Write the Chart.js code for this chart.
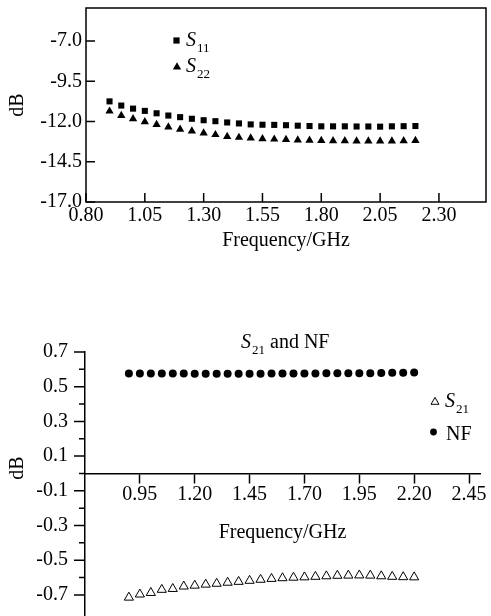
<!DOCTYPE html>
<html><head><meta charset="utf-8">
<script src="https://cdn.jsdelivr.net/npm/chart.js@4.4.1/dist/chart.umd.min.js"></script>
<style>
html,body{margin:0;padding:0;background:#fff;width:491px;height:616px;overflow:hidden;position:relative}
canvas{position:absolute;left:0}
#c1{top:0}
#c2{top:300px}
</style></head><body>
<canvas id="c1" width="491" height="262"></canvas>
<canvas id="c2" width="491" height="322"></canvas>
<script>
// ---------- data ----------
const freq = [0.90,0.95,1.00,1.05,1.10,1.15,1.20,1.25,1.30,1.35,1.40,1.45,1.50,1.55,1.60,1.65,1.70,1.75,1.80,1.85,1.90,1.95,2.00,2.05,2.10,2.15,2.20];
const s11 = [-10.75,-11.01,-11.20,-11.34,-11.49,-11.63,-11.73,-11.83,-11.92,-11.98,-12.06,-12.12,-12.18,-12.20,-12.21,-12.23,-12.26,-12.28,-12.30,-12.30,-12.30,-12.31,-12.31,-12.32,-12.30,-12.29,-12.28];
const s22 = [-11.36,-11.63,-11.83,-12.02,-12.19,-12.35,-12.49,-12.60,-12.72,-12.82,-12.94,-12.99,-13.03,-13.07,-13.10,-13.12,-13.15,-13.17,-13.18,-13.20,-13.20,-13.21,-13.21,-13.21,-13.21,-13.20,-13.19];
const nf  = [0.576,0.576,0.576,0.576,0.576,0.576,0.575,0.575,0.575,0.575,0.575,0.575,0.575,0.576,0.576,0.576,0.576,0.576,0.577,0.577,0.577,0.578,0.578,0.579,0.580,0.581,0.582];
const s21 = [-0.715,-0.697,-0.688,-0.670,-0.665,-0.651,-0.646,-0.640,-0.635,-0.629,-0.624,-0.618,-0.612,-0.607,-0.603,-0.600,-0.598,-0.595,-0.592,-0.589,-0.588,-0.587,-0.588,-0.592,-0.595,-0.597,-0.598];
const topXTicks = [0.80,1.05,1.30,1.55,1.80,2.05,2.30];
const topYTicks = [-17.0,-14.5,-12.0,-9.5,-7.0];
const botXTicks = [0.95,1.20,1.45,1.70,1.95,2.20,2.45];
const botYTicks = [0.7,0.6,0.5,0.4,0.3,0.2,0.1,0.0,-0.1,-0.2,-0.3,-0.4,-0.5,-0.6,-0.7];
const botYLabels = [0.7,0.5,0.3,0.1,-0.1,-0.3,-0.5,-0.7];

const FAM = '"Liberation Serif", "Times New Roman", serif';
Chart.defaults.font.family = FAM;
Chart.defaults.color = '#000';

function pts(ys){ return freq.map((f,i)=>({x:f,y:ys[i]})); }
function zeroPad(s){ s.paddingLeft=0; s.paddingRight=0; s.paddingTop=0; s.paddingBottom=0; }

function marker(ctx, style, x, y, r, filled){
  ctx.save();
  ctx.fillStyle='#000'; ctx.strokeStyle='#000'; ctx.lineWidth=1;
  ctx.beginPath();
  if(style==='rect'){ const s=r*Math.SQRT1_2; ctx.rect(x-s,y-s,2*s,2*s); }
  else if(style==='triangle'){
    ctx.moveTo(x, y-r); ctx.lineTo(x+r*Math.sin(2*Math.PI/3), y+r/2); ctx.lineTo(x-r*Math.sin(2*Math.PI/3), y+r/2); ctx.closePath();
  } else { ctx.arc(x,y,r,0,Math.PI*2); }
  if(filled) ctx.fill(); else ctx.stroke();
  ctx.restore();
}
function subText(ctx, x, y, main, sub, size, subSize, rest){
  ctx.save();
  ctx.fillStyle='#000'; ctx.textBaseline='alphabetic'; ctx.textAlign='left';
  ctx.font = 'italic '+size+'px '+FAM;
  ctx.fillText(main, x, y);
  let w = ctx.measureText(main).width + 1;
  ctx.font = subSize+'px '+FAM;
  ctx.fillText(sub, x+w, y+subSize*0.45);
  w += ctx.measureText(sub).width;
  if(rest){ ctx.font = size+'px '+FAM; ctx.fillText(rest, x+w, y); }
  ctx.restore();
}

// ---------- top chart ----------
const topPlugin = {
  id:'topDeco',
  afterDraw(chart){
    const {ctx, chartArea:a} = chart;
    const xs = chart.scales.x, ys = chart.scales.y;
    ctx.save();
    ctx.strokeStyle='#000'; ctx.lineWidth=1.5;
    ctx.strokeRect(a.left, a.top, a.right-a.left, a.bottom-a.top);
    ctx.beginPath();
    xs.ticks.forEach(t=>{ const p=xs.getPixelForValue(t.value); ctx.moveTo(p,a.bottom); ctx.lineTo(p,a.bottom-9); });
    ys.ticks.forEach(t=>{ const p=ys.getPixelForValue(t.value); ctx.moveTo(a.left,p); ctx.lineTo(a.left+9,p); });
    ctx.stroke();
    ctx.restore();
    const ds = chart.data.datasets;
    marker(ctx, ds[0].pointStyle, 176.5, 40.5, 4.4, true);
    subText(ctx, 186, 46, ds[0].label[0], ds[0].label.slice(1), 20, 13);
    marker(ctx, ds[1].pointStyle, 177, 67, 4.8, true);
    subText(ctx, 186, 72, ds[1].label[0], ds[1].label.slice(1), 20, 13);
  }
};

new Chart(document.getElementById('c1'), {
  type:'scatter',
  data:{ datasets:[
    {label:'S11', data:pts(s11), pointStyle:'rect', pointRadius:4.3, backgroundColor:'#000', borderColor:'#000', borderWidth:0, showLine:false},
    {label:'S22', data:pts(s22), pointStyle:'triangle', pointRadius:4.8, backgroundColor:'#000', borderColor:'#000', borderWidth:0, showLine:false}
  ]},
  options:{
    responsive:false, animation:false, events:[],
    layout:{padding:{top:8,right:5,left:0,bottom:0}},
    plugins:{legend:{display:false}, tooltip:{enabled:false}},
    scales:{
      x:{type:'linear', min:0.80, max:2.50,
        afterBuildTicks:s=>{ s.ticks = topXTicks.map(v=>({value:v})); },
        afterFit:s=>{ s.height=60; zeroPad(s); },
        ticks:{callback:v=>Number(v).toFixed(2), font:{size:20}, padding:2, maxRotation:0, autoSkip:false},
        grid:{display:true, drawOnChartArea:false, drawTicks:false},
        border:{display:false},
        title:{display:true, text:'Frequency/GHz', font:{size:20}, padding:{top:0,bottom:9}}
      },
      y:{type:'linear', min:-17, max:-4.95,
        afterBuildTicks:s=>{ s.ticks = topYTicks.map(v=>({value:v})); },
        afterFit:s=>{ s.width=86; zeroPad(s); },
        ticks:{callback:v=>Number(v).toFixed(1), font:{size:20}, padding:4, autoSkip:false},
        grid:{display:true, drawOnChartArea:false, drawTicks:false},
        border:{display:false},
        title:{display:true, text:'dB', font:{size:20}, padding:{top:6,bottom:0}}
      }
    }
  },
  plugins:[topPlugin]
});

// ---------- bottom chart ----------
const botPlugin = {
  id:'botDeco',
  afterDraw(chart){
    const {ctx, chartArea:a} = chart;
    const ys = chart.scales.y;
    ctx.save();
    ctx.strokeStyle='#000'; ctx.lineWidth=1.5;
    ctx.beginPath();
    ys.ticks.forEach(t=>{
      const p = ys.getPixelForValue(t.value);
      const major = botYLabels.some(l=>Math.abs(l-t.value)<1e-6);
      ctx.moveTo(a.left, p); ctx.lineTo(a.left-(major?11:6), p);
    });
    ctx.stroke();
    ctx.fillStyle='#000';
    ctx.font='20px '+FAM;
    ctx.translate(18, 168); ctx.rotate(-Math.PI/2);
    ctx.textAlign='center'; ctx.textBaseline='middle';
    ctx.fillText('dB', 0, 0);
    ctx.restore();
    subText(ctx, 241, 48, 'S', '21', 20, 13, ' and NF');
    const ds = chart.data.datasets;
    marker(ctx, ds[0].pointStyle, 435, 102, 4.6, false);
    subText(ctx, 445, 107, ds[0].label[0], ds[0].label.slice(1), 20, 13);
    marker(ctx, ds[1].pointStyle, 433.5, 132, 3.4, true);
    ctx.save(); ctx.fillStyle='#000'; ctx.font='20px '+FAM; ctx.textBaseline='alphabetic';
    ctx.fillText(ds[1].label, 446, 140); ctx.restore();
  }
};

new Chart(document.getElementById('c2'), {
  type:'scatter',
  data:{ datasets:[
    {label:'S21', data:pts(s21), pointStyle:'triangle', pointRadius:5.3, backgroundColor:'rgba(0,0,0,0)', borderColor:'#000', borderWidth:1, showLine:false},
    {label:'NF', data:pts(nf), pointStyle:'circle', pointRadius:4, backgroundColor:'#000', borderColor:'#000', borderWidth:0, showLine:false}
  ]},
  options:{
    responsive:false, animation:false, events:[],
    layout:{padding:{top:52,right:11,left:0,bottom:0}},
    plugins:{legend:{display:false}, tooltip:{enabled:false}},
    scales:{
      x:{type:'linear', min:0.70, max:2.50, position:{y:0},
        afterBuildTicks:s=>{ s.ticks = botXTicks.map(v=>({value:v})); },
        afterFit:s=>{ s.height=75; zeroPad(s); },
        ticks:{callback:v=>Number(v).toFixed(2), font:{size:20}, padding:0, maxRotation:0, autoSkip:false},
        grid:{display:true, drawOnChartArea:false, drawTicks:true, tickLength:9, tickColor:'#000', tickWidth:1.5},
        border:{display:true, color:'#000', width:1.5},
        title:{display:true, text:'Frequency/GHz', font:{size:20}, padding:{top:0,bottom:4}}
      },
      y:{type:'linear', min:-0.82, max:0.70,
        afterBuildTicks:s=>{ s.ticks = botYTicks.map(v=>({value:v})); },
        afterFit:s=>{ s.width=85; zeroPad(s); },
        ticks:{callback:v=>botYLabels.some(l=>Math.abs(l-v)<1e-6)?Number(v).toFixed(1):'', font:{size:20}, padding:17, autoSkip:false},
        grid:{display:true, drawOnChartArea:false, drawTicks:false},
        border:{display:true, color:'#000', width:1.5}
      }
    }
  },
  plugins:[botPlugin]
});
</script>
</body></html>
